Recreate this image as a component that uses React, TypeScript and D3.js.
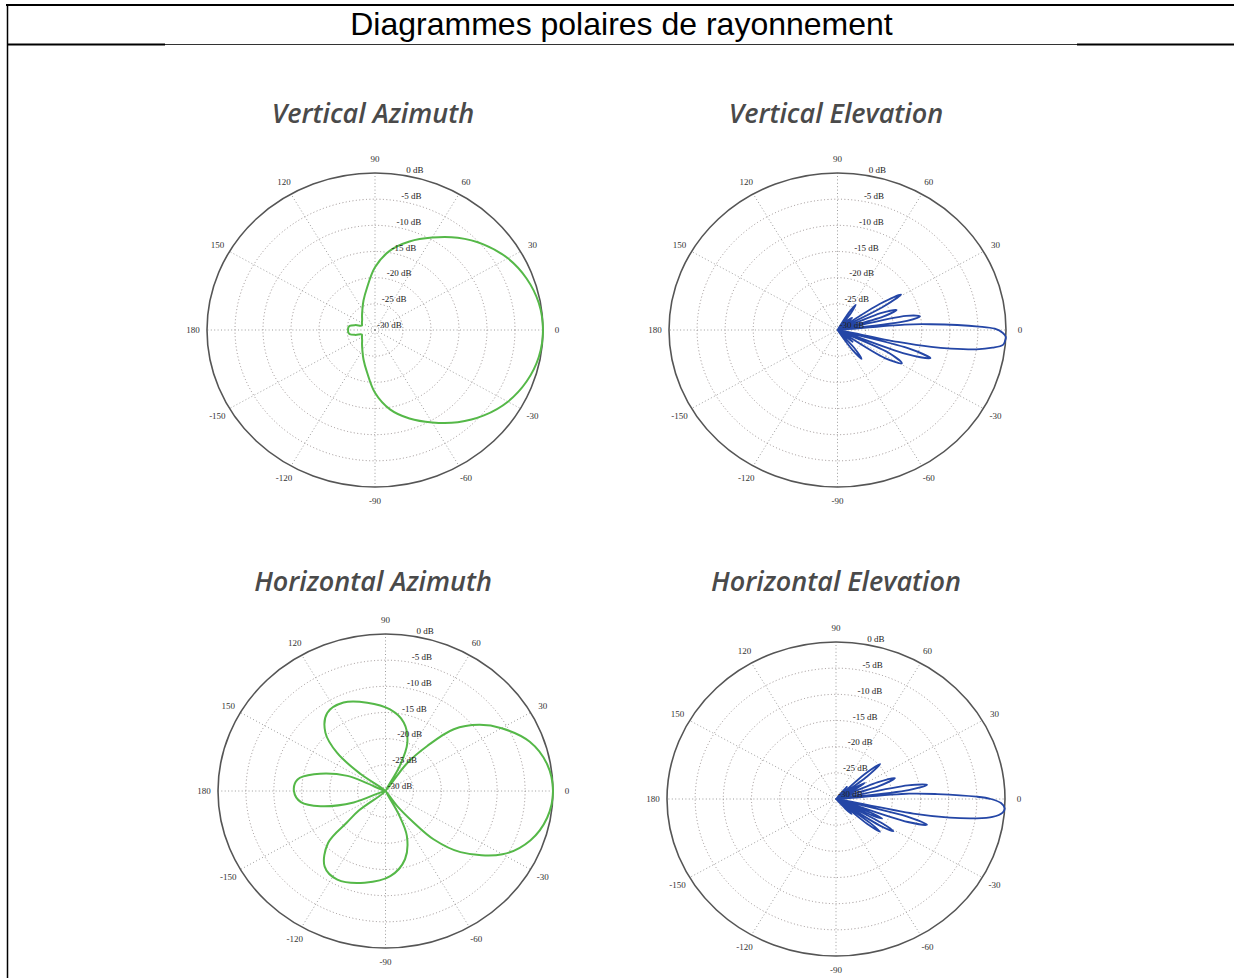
import React from 'react';
import * as d3 from 'd3';

// angle labels around the outer ring (degrees, 0 = right, counter-clockwise)
const angleTicks = [0, 30, 60, 90, 120, 150, 180, -150, -120, -90, -60, -30];
// dB rings: centre = -30 dB, outer ring = 0 dB
const dbTicks = [0, -5, -10, -15, -20, -25, -30];

// Vertical Azimuth (green cardioid)
const vAzAngles = [0, 10, 20, 30, 40, 50, 60, 70, 80, 90, 100, 110, 120, 130, 140, 150, 160, 165, 170, 175,
  180, -175, -170, -165, -160, -150, -140, -130, -120, -110, -100, -90, -80, -70, -60, -50, -40, -30, -20, -10];
const vAzDb = [0, -0.3, -1.2, -2.6, -4.6, -7.0, -9.6, -12.0, -14.6, -18.0, -21.8, -24.0, -25.5, -26.4, -27.0, -27.3, -27.5, -26.4, -25.4, -25.2,
  -25.2, -25.2, -25.4, -26.4, -27.5, -27.3, -27.0, -26.4, -25.5, -24.0, -21.8, -18.0, -14.6, -12.0, -9.6, -7.0, -4.6, -2.6, -1.2, -0.3];

// Vertical Elevation (blue, main lobe + side lobes)
const vElAngles = [61, 58.5, 56, 53.5, 51, 46, 42, 38, 35.5, 33.5, 31, 28.5, 26, 22.5, 20, 17.5, 15, 12.5, 10, 8,
  6.5, 5, 3.8, 1.5, 0.5, -1, -2.5, -4, -5.5, -7, -8.5, -10, -11, -12, -13.5, -15.5, -18, -20.5, -22.5, -25.5,
  -29, -32.5, -35.5, -40, -44, -49, -52, -55, -58];
const vElDb = [-30, -26, -24.2, -26, -30, -27.5, -26.5, -28, -30, -21, -16.8, -21, -30, -21.5, -18.8, -21.5, -30, -17.5, -15.1, -17.5,
  -30, -18, -13.4, -4.8, -2.0, -0.6, 0, -0.1, -0.4, -2.2, -5.0, -9.5, -13, -19, -30, -17, -12.6, -17, -30, -20,
  -16.9, -20, -30, -26.5, -30, -25.5, -23, -25.5, -30];

// Horizontal Azimuth (green, four lobes)
const hAzAngles = [0, 10, 20, 30, 37, 44, 49, 54, 58, 62, 67, 76, 87, 101, 114, 125, 134, 140, 144, 149,
  157, 166, 172, 180, -172, -166, -159, -149, -142, -139, -136, -127, -117, -102, -87, -75, -66, -62, -58, -54,
  -50, -47, -41, -30, -20, -10];
const hAzDb = [0, -0.6, -2.5, -6.0, -9.0, -13.0, -18.6, -23.5, -30, -24.5, -20.0, -16.5, -14.4, -12.8, -11.5, -11.8, -14.5, -18.7, -24.5, -30,
  -22.6, -16.8, -14.1, -13.6, -14.7, -18.0, -23.9, -30, -24.0, -20.9, -15.7, -11.9, -11.0, -12.1, -13.7, -16.5, -20.6, -25.0, -30, -26.5,
  -22.1, -17.4, -12.2, -5.8, -2.4, -0.6];

// Horizontal Elevation (blue)
const hElAngles = [54, 50, 46, 43, 40.5, 38, 35, 33, 31, 29, 26, 23.5, 21, 18, 14, 11.5, 9.5, 7.5, 6, 4.5,
  3, 1, 0, -1.5, -3.4, -5, -7, -8.5, -10, -11.5, -13, -15, -17, -19, -21, -23, -24.5, -26, -27.5, -29.5,
  -31, -33, -35, -37, -38.7, -40.5, -42, -44, -46, -48, -50];
const hElDb = [-30, -27, -30, -23, -19.7, -23, -30, -26, -24, -26, -30, -22, -18.8, -22, -30, -17, -13.6, -17, -30, -17,
  -12, -5, -2.5, -0.7, 0, -0.3, -2.0, -5.0, -9.5, -16, -30, -16.5, -13.1, -16.5, -30, -23, -21, -23, -30, -20.5,
  -18.1, -20.5, -30, -22.5, -20, -22.5, -30, -27.5, -26, -27.5, -30];

const GREEN = '#55b848';
const BLUE = '#2446a6';
const TICK_FONT = '"Liberation Serif", "DejaVu Serif", serif';

interface PanelProps {
  title: string;
  titleX: number;
  titleY: number;
  cx: number;
  cy: number;
  rx: number;
  ry: number;
  angles: number[];
  db: number[];
  color: string;
  closed: boolean;
}

const PolarPanel: React.FC<PanelProps> = ({ title, titleX, titleY, cx, cy, rx, ry, angles, db, color, closed }) => {
  const rScale = d3.scaleLinear().domain([-30, 0]).range([0, 1]).clamp(true);
  const rad = (deg: number) => (deg * Math.PI) / 180;
  const px = (deg: number, k: number) => cx + rx * k * Math.cos(rad(deg));
  const py = (deg: number, k: number) => cy - ry * k * Math.sin(rad(deg));

  const pts: [number, number][] = angles.map((a, i) => [px(a, rScale(db[i])), py(a, rScale(db[i]))]);
  const line = d3.line<[number, number]>()
    .curve(closed ? d3.curveCatmullRomClosed.alpha(0.5) : d3.curveCatmullRom.alpha(0.5));

  const labelAngle = 80;

  return (
    <g>
      <text x={titleX} y={titleY} textAnchor="middle" fontFamily='"Open Sans", sans-serif'
        fontStyle="italic" fontWeight={600} fontSize={27} fill="#4a4a4a">{title}</text>

      {/* dotted dB rings */}
      {dbTicks.filter(v => v > -30 && v < 0).map(v => (
        <ellipse key={v} cx={cx} cy={cy} rx={rx * rScale(v)} ry={ry * rScale(v)}
          fill="none" stroke="#8f8585" strokeWidth={0.9} strokeDasharray="1 2.4" />
      ))}
      {/* dotted spokes */}
      {angleTicks.map(a => (
        <line key={a} x1={cx} y1={cy} x2={px(a, 1)} y2={py(a, 1)}
          stroke="#929292" strokeWidth={0.9} strokeDasharray="1 2.4" />
      ))}
      <ellipse cx={cx} cy={cy} rx={rx} ry={ry} fill="none" stroke="#555" strokeWidth={1.6} />

      <path d={line(pts) || ''} fill="none" stroke={color} strokeWidth={color === BLUE ? 1.8 : 2} strokeLinejoin="round" />

      {angleTicks.map(a => {
        const t = rad(a);
        return (
          <text key={a} x={cx + (rx + 14) * Math.cos(t)} y={cy - (ry + 14) * Math.sin(t)}
            textAnchor="middle" dominantBaseline="central" fontFamily={TICK_FONT} fontSize={9} fill="#333">
            {a}
          </text>
        );
      })}
      {dbTicks.map(v => (
        <text key={v} x={px(labelAngle, rScale(v)) + 2} y={py(labelAngle, rScale(v)) - 2}
          fontFamily={TICK_FONT} fontSize={9} fill="#222">
          {`${v} dB`}
        </text>
      ))}
    </g>
  );
};

const App: React.FC = () => (
  <svg width={1234} height={978} style={{ position: 'absolute', left: 0, top: 0, background: '#fff' }}>
    {/* page frame */}
    <line x1={6} y1={5} x2={1234} y2={5} stroke="#000" strokeWidth={2} />
    <line x1={7.5} y1={4} x2={7.5} y2={978} stroke="#000" strokeWidth={1.5} />
    <line x1={7} y1={44.5} x2={1234} y2={44.5} stroke="#333" strokeWidth={1} />
    <line x1={7} y1={44.5} x2={165} y2={44.5} stroke="#000" strokeWidth={2} />
    <line x1={1077} y1={44.5} x2={1234} y2={44.5} stroke="#000" strokeWidth={2} />
    <text x={621.5} y={35} textAnchor="middle" fontFamily='"Liberation Sans", Arial, sans-serif'
      fontSize={32} fill="#000">Diagrammes polaires de rayonnement</text>

    <PolarPanel title="Vertical Azimuth" titleX={373} titleY={123} cx={375} cy={330} rx={168} ry={157}
      angles={vAzAngles} db={vAzDb} color={GREEN} closed />
    <PolarPanel title="Vertical Elevation" titleX={836} titleY={123} cx={837.5} cy={330} rx={168.5} ry={157}
      angles={vElAngles} db={vElDb} color={BLUE} closed={false} />
    <PolarPanel title="Horizontal Azimuth" titleX={373} titleY={591} cx={385.5} cy={791} rx={167.5} ry={157}
      angles={hAzAngles} db={hAzDb} color={GREEN} closed />
    <PolarPanel title="Horizontal Elevation" titleX={836} titleY={591} cx={836} cy={799} rx={169} ry={157}
      angles={hElAngles} db={hElDb} color={BLUE} closed={false} />
  </svg>
);

export default App;
